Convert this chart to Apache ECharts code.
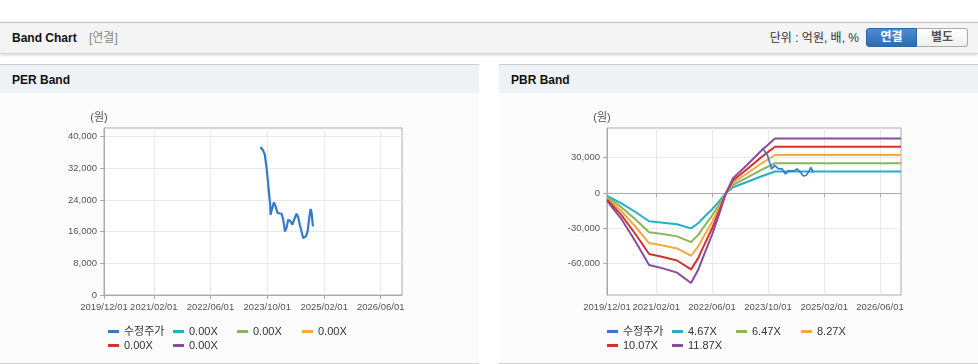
<!DOCTYPE html>
<html><head><meta charset="utf-8">
<script src="https://cdn.jsdelivr.net/npm/echarts@6/dist/echarts.min.js"></script>
<style>
html,body{margin:0;padding:0;background:#fff;width:978px;height:364px;overflow:hidden;font-family:"Liberation Sans",Arial,"Noto Sans CJK KR",sans-serif;}
#hdr{position:absolute;left:0;top:22px;width:978px;height:30px;background:#f4f4f4;border-top:1px solid #bbb;border-bottom:1px solid #d6d6d6;box-shadow:0 1px 3px rgba(0,0,0,0.18);}
#hdrTitle{position:absolute;left:12px;top:0;line-height:30px;font-size:12px;font-weight:bold;color:#111;}
#hdrSub{position:absolute;left:89px;top:0;line-height:30px;font-size:12px;color:#888;}
#unit{position:absolute;right:119px;top:0;line-height:30px;font-size:12px;color:#333;}
.btn{position:absolute;top:5px;height:17px;width:49px;line-height:17px;text-align:center;font-size:12px;font-weight:bold;}
#btn1{left:866px;background:linear-gradient(#4c8dd3,#2e6bb2);border:1px solid #2c67a8;color:#fff;border-radius:3px 0 0 3px;}
#btn2{left:917px;background:linear-gradient(#fff,#f0f0f0);border:1px solid #aaa;border-left:none;color:#555;border-radius:0 3px 3px 0;width:50px;}
.panel{position:absolute;top:64px;width:479px;height:298px;border-top:1px solid #cfcfcf;border-bottom:1px solid #cfcfcf;background:#fcfcfc;}
.phead{position:absolute;left:0;top:0;width:100%;height:28px;background:#eef2f6;}
.ptitle{position:absolute;left:12px;top:0;line-height:30px;font-size:12px;font-weight:bold;color:#111;}
.chart{position:absolute;top:94px;width:479px;height:268px;}
</style></head>
<body>
<div id="hdr"><div id="hdrTitle">Band Chart</div><div id="hdrSub">[연결]</div><div id="unit">단위 : 억원, 배, %</div><div id="btn1" class="btn">연결</div><div id="btn2" class="btn">별도</div></div>
<div class="panel" style="left:0"><div class="phead"><div class="ptitle">PER Band</div></div></div>
<div class="panel" style="left:499px"><div class="phead"><div class="ptitle">PBR Band</div></div></div>
<div id="per" class="chart" style="left:0"></div>
<div id="pbr" class="chart" style="left:499px"></div>
<script>
// ---- data ----
const xTickDates = ['2019-12-01','2021-02-01','2022-06-01','2023-10-01','2025-02-01','2026-06-01'];
const xStart = '2019-12-01';
const xEnd = '2026-12-01';
const perYTicks = [0, 8000, 16000, 24000, 32000, 40000];
const pbrYTicks = [-60000, -30000, 0, 30000];
const unitLabel = '(원)';

const priceName = '수정주가';
const priceDates = ['2023-08-05','2023-08-27','2023-09-11','2023-09-26','2023-10-09','2023-10-18','2023-10-27','2023-10-30','2023-11-10','2023-11-16','2023-11-28','2023-12-12','2023-12-29','2024-02-02','2024-02-16','2024-03-01','2024-03-15','2024-03-29','2024-04-19','2024-05-05','2024-05-19','2024-06-09','2024-06-23','2024-07-07','2024-07-22','2024-08-05','2024-08-28','2024-09-12','2024-09-26','2024-10-08','2024-10-16','2024-10-22','2024-10-28'];
const priceValues = [37350,36490,35400,32050,28260,25310,22790,20260,21530,21950,23370,22360,20690,20510,19000,16050,16900,19000,18570,17740,19000,20510,19680,17740,16050,14380,14790,16050,19430,21700,20850,19000,17310];

const perBandNames = ['0.00X#1','0.00X#2','0.00X#3','0.00X#4','0.00X#5'];

const pbrBandNames = ['4.67X','6.47X','8.27X','10.07X','11.87X'];
const bandDates = ['2019-12-01','2020-04-01','2020-08-01','2020-12-01','2021-04-01','2021-08-01','2021-12-01','2022-02-01','2022-04-01','2022-06-01','2022-08-01','2022-10-01','2022-12-01','2023-04-01','2023-08-01','2023-12-01','2026-12-01'];
const band467  = [-2570,-8550,-15970,-24050,-25220,-26620,-30120,-25690,-19850,-14010,-7240,0,4900,9340,14010,18210,18210];
const band647  = [-3560,-11840,-22130,-33320,-34940,-36880,-41730,-35590,-27500,-19410,-10030,0,6790,12940,19410,25230,25230];
const band827  = [-4550,-15130,-28280,-42590,-44660,-47140,-53340,-45490,-35150,-24810,-12820,0,8680,16540,24810,32250,32250];
const band1007 = [-5540,-18430,-34440,-51860,-54380,-57400,-64950,-55390,-42800,-30210,-15610,0,10570,20140,30210,39270,39270];
const band1187 = [-6530,-21720,-40600,-61130,-64100,-67660,-76560,-65290,-50450,-35610,-18400,0,12460,23740,35610,46290,46290];

const colors = ['#3579c9','#22afc8','#8cb55a','#f3a93f','#d5302b','#8b4c9c'];

// ---- helpers ----
const ts = d => Date.parse(d + 'T00:00:00Z');
const pad = n => String(n).padStart(2,'0');
const fmtDate = v => { const d = new Date(v); return d.getUTCFullYear() + '/' + pad(d.getUTCMonth()+1) + '/' + pad(d.getUTCDate()); };
const fmtNum = v => Number(v).toLocaleString('en-US');
const FONT = "'Liberation Sans', Arial, 'Noto Sans CJK KR', sans-serif";
const zip = (ds, vs) => ds.map((d,i) => [ts(d), vs[i]]);

// legend slot positions (px within chart box): [left, top]
const legendSlots = [[108,232],[173,232],[237,232],[302,232],[108,246],[173,246]];

function build(yTicks, yMin, yMax, bandNames, bandValues, gridLeft, gridWidth, priceWidth) {
  const xt = xTickDates.map(ts);
  const series = [];
  series.push({name: priceName, type:'line', data: zip(priceDates, priceValues), showSymbol:false, symbol:'none',
    lineStyle:{width: priceWidth, color: colors[0]}, itemStyle:{color: colors[0]}, z: 5, animation:false});
  bandNames.forEach((n,i) => {
    series.push({name: n, type:'line', data: bandValues ? zip(bandDates, bandValues[i]) : [], showSymbol:false, symbol:'none',
      lineStyle:{width:2, color: colors[i+1]}, itemStyle:{color: colors[i+1]}, z: 2, animation:false});
  });
  const allNames = [priceName].concat(bandNames);
  const legends = allNames.map((n, i) => ({
    orient:'horizontal', left: legendSlots[i][0], top: legendSlots[i][1], padding:0,
    itemWidth:11, itemHeight:3, icon:'rect', selectedMode:false,
    textStyle:{fontSize:11, color:'#333', fontFamily: FONT},
    formatter: nm => nm.split('#')[0], data:[n]
  }));
  return {
    animation:false,
    textStyle:{fontFamily: FONT},
    grid:{left: gridLeft, top:34, width: gridWidth, height:167, show:true, borderColor:'#aaa', borderWidth:1, backgroundColor:'#fff'},
    legend: legends,
    xAxis:{type:'value', min: ts(xStart), max: ts(xEnd),
      axisLine:{show:true, lineStyle:{color:'#aaa'}},
      axisTick:{show:true, length:4, lineStyle:{color:'#aaa'}, customValues: xt},
      axisLabel:{customValues: xt, formatter: fmtDate, color:'#555', fontSize:9.5, margin:8, fontFamily: FONT},
      splitLine:{show:true, lineStyle:{color:'#e9e9e9'}}},
    yAxis:{type:'value', min:yMin, max:yMax,
      name: unitLabel, nameLocation:'end', nameGap:5,
      nameTextStyle:{color:'#555', fontSize:11, align:'center', padding:[0,10,0,0], fontFamily: FONT},
      axisLine:{show:true, lineStyle:{color:'#aaa'}},
      axisTick:{show:true, length:4, lineStyle:{color:'#aaa'}, customValues: yTicks},
      axisLabel:{customValues: yTicks, formatter: fmtNum, color:'#555', fontSize:9.5, margin:7, fontFamily: FONT},
      splitLine:{show:true, lineStyle:{color:'#e9e9e9'}}},
    series
  };
}

const perChart = echarts.init(document.getElementById('per'));
perChart.setOption(build(perYTicks, 0, 42150, perBandNames, null, 104, 298, 2.2));
const pbrChart = echarts.init(document.getElementById('pbr'));
pbrChart.setOption(build(pbrYTicks, -86700, 55200, pbrBandNames, [band467, band647, band827, band1007, band1187], 108, 294, 1.6));
</script>
</body></html>
